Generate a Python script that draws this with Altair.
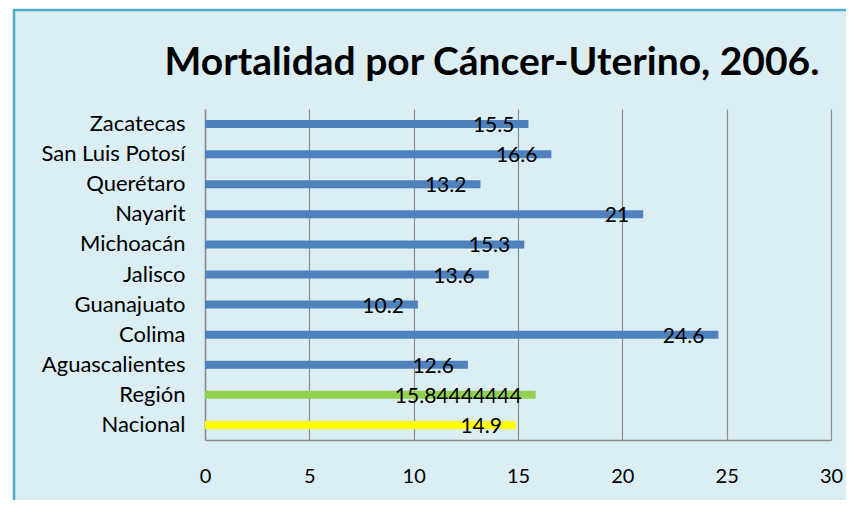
import altair as alt
import pandas as pd

titulo = "Mortalidad por Cáncer-Uterino, 2006."
categorias = ["Zacatecas", "San Luis Potosí", "Querétaro", "Nayarit", "Michoacán",
              "Jalisco", "Guanajuato", "Colima", "Aguascalientes", "Región", "Nacional"]
valores = [15.5, 16.6, 13.2, 21, 15.3, 13.6, 10.2, 24.6, 12.6, 15.84444444, 14.9]
etiquetas = ["15.5", "16.6", "13.2", "21", "15.3", "13.6", "10.2", "24.6", "12.6", "15.84444444", "14.9"]
tipos = ["Estado"] * 9 + ["Región", "Nacional"]
ticks_x = [0, 5, 10, 15, 20, 25, 30]

df = pd.DataFrame({"cat": categorias, "val": valores, "lab": etiquetas, "tipo": tipos})

FONT = "Lato"
W, H = 626, 331
PL, PT, PR, PB = 197, 101, 15, 60
BG = "#DBEEF4"
BORDER = "#4BACC6"

y_enc = alt.Y("cat:N", sort=categorias, title=None,
              axis=alt.Axis(labelFont=FONT, labelFontSize=22, labelColor="black",
                            labelPadding=20, ticks=False, domainColor="#8C8C8C",
                            domainWidth=1.5, grid=False))
x_enc = alt.X("val:Q", title=None,
              scale=alt.Scale(domain=[0, 30], nice=False),
              axis=alt.Axis(values=ticks_x, labelFont=FONT, labelFlush=False,
                            labelFontSize=20, labelColor="black", labelPadding=26,
                            ticks=False, domainColor="#8C8C8C", domainWidth=1.5,
                            gridColor="#8C8C8C", gridWidth=1.2, gridOpacity=1))

bars = alt.Chart(df).mark_bar(size=8).encode(
    y=y_enc, x=x_enc,
    color=alt.Color("tipo:N", legend=None,
                    scale=alt.Scale(domain=["Estado", "Región", "Nacional"],
                                    range=["#4F81BD", "#92D050", "#FFFF00"])),
)

labels = alt.Chart(df).mark_text(align="right", baseline="middle", dx=-14, dy=2,
                                 font=FONT, fontSize=21, color="black").encode(
    y=alt.Y("cat:N", sort=categorias), x="val:Q", text="lab:N")

one = pd.DataFrame({"t": [titulo]})
frame_white_left = alt.Chart(one).mark_rect(color="white").encode(
    x=alt.value(-PL), x2=alt.value(-PL + 5), y=alt.value(-PT), y2=alt.value(H + PB))
frame_white_top = alt.Chart(one).mark_rect(color="white").encode(
    x=alt.value(-PL), x2=alt.value(W + PR), y=alt.value(-PT), y2=alt.value(-PT + 1))
frame_left = alt.Chart(one).mark_rule(color=BORDER, strokeWidth=2.5).encode(
    x=alt.value(-PL + 6), y=alt.value(-PT + 2), y2=alt.value(H + PB))
frame_top = alt.Chart(one).mark_rule(color=BORDER, strokeWidth=2.5).encode(
    x=alt.value(-PL + 5), x2=alt.value(W + PR), y=alt.value(-PT + 2))

title_mark = alt.Chart(one).mark_text(font=FONT, fontSize=39, fontWeight="bold",
                                      color="black", align="center",
                                      baseline="alphabetic").encode(
    x=alt.value(287), y=alt.value(-34), text="t:N")

chart = alt.layer(frame_white_left, frame_white_top, frame_left, frame_top,
                  bars, labels, title_mark).properties(
    width=W, height=H,
    autosize=alt.AutoSizeParams(type="none"),
    padding={"left": PL, "top": PT, "right": PR, "bottom": PB},
    background=BG,
).configure_view(stroke=None)

chart.save("out.html", embed_options={"renderer": "svg", "actions": False})
